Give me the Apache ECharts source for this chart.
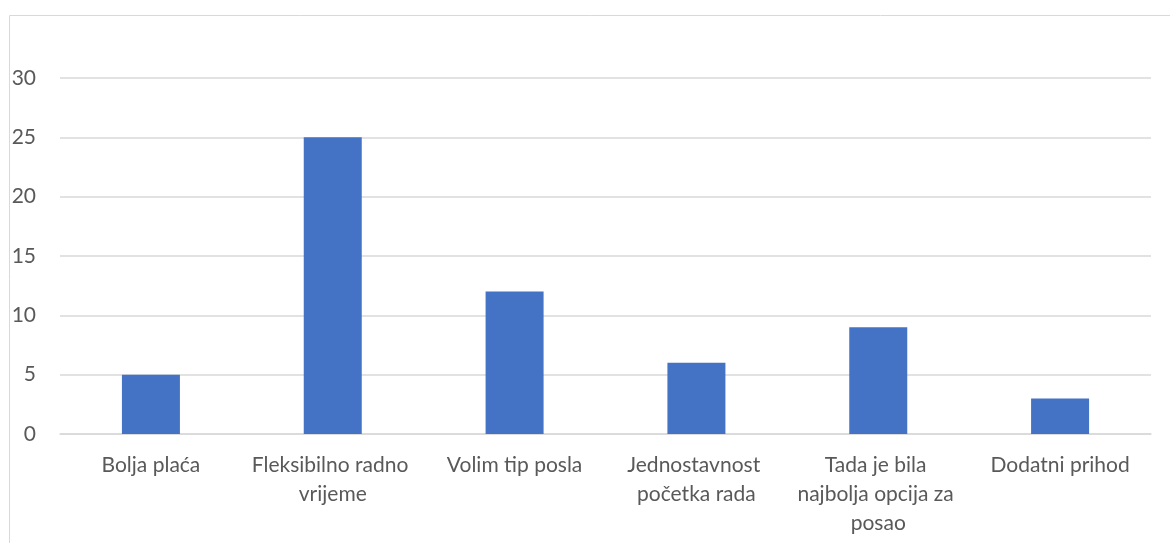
<!DOCTYPE html>
<html>
<head>
<meta charset="utf-8">
<script src="https://cdn.jsdelivr.net/npm/echarts@6/dist/echarts.min.js"></script>
<style>
  html, body { margin: 0; padding: 0; background: #fff; }
  #chart { width: 1170px; height: 543px; }
</style>
</head>
<body>
<div id="chart"></div>
<script>
// podaci
const categories = ['Bolja plaća', 'Fleksibilno radno vrijeme', 'Volim tip posla', 'Jednostavnost početka rada', 'Tada je bila najbolja opcija za posao', 'Dodatni prihod'];
const values = [5, 25, 12, 6, 9, 3];
const yTicks = [0, 5, 10, 15, 20, 25, 30];

const chart = echarts.init(document.getElementById('chart'));

const option = {
  animation: false,
  textStyle: { fontFamily: 'Lato, "Open Sans", sans-serif' },
  // okvir grafikona
  graphic: [{
    type: 'rect',
    shape: { x: 9.5, y: 15.5, width: 1200, height: 600 },
    style: { fill: 'none', stroke: '#d9d9d9', lineWidth: 1 },
    silent: true
  }],
  grid: { left: 60, right: 19, top: 78, bottom: 109 },
  xAxis: {
    type: 'category',
    data: categories,
    axisLine: { lineStyle: { color: '#d9d9d9', width: 1.5 } },
    axisTick: { show: false },
    axisLabel: {
      color: '#595959',
      fontSize: 21,
      lineHeight: 29,
      margin: 17,
      width: 175,
      overflow: 'break',
      interval: 0
    }
  },
  yAxis: {
    type: 'value',
    min: yTicks[0],
    max: yTicks[yTicks.length - 1],
    interval: yTicks[1] - yTicks[0],
    axisLine: { show: false },
    axisTick: { show: false },
    axisLabel: { color: '#595959', fontSize: 21, margin: 24 },
    splitLine: { lineStyle: { color: '#d9d9d9', width: 1.5 } }
  },
  series: [{
    type: 'bar',
    data: values,
    barWidth: 58,
    itemStyle: { color: '#4472C4' }
  }]
};

chart.setOption(option);
</script>
</body>
</html>
